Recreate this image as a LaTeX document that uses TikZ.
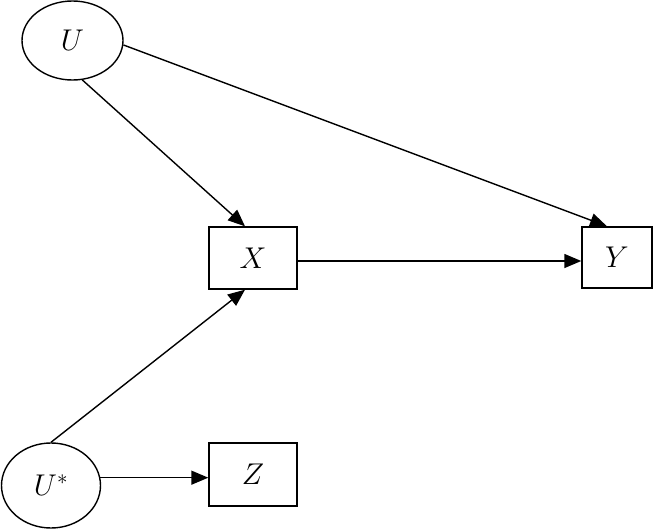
\RequirePackage{fix-cm}
\documentclass[tikz,border=0pt]{standalone}
\usepackage{amsmath}
\usepackage{tikz}
\usetikzlibrary{arrows.meta,shapes.geometric}

\begin{document}
\begin{tikzpicture}[
    x = 1pt, y = -1pt, line width = 1.4pt,
    font = \fontsize{30}{34}\selectfont, >={Triangle[length = 17pt, width = 14pt]},
    lat/.style ={ellipse, draw, inner sep = 0pt},
    obs/.style ={rectangle, draw, inner sep = 0pt}
    ]
\useasboundingbox (0, 0) rectangle (654, 530);

\def\BW{88} % width of the boxes
\def\BH{62} % height of the boxes

    \node (U)     at (72.5, 40.5) [lat, minimum width = 101pt, minimum height = 79pt]{$U$};
    \node (Ustar) at (51, 485.5)  [lat, minimum width = 99pt,  minimum height = 85pt]{$U^*$};

    \node (X) at (253, 258)   [obs, minimum width = \BW pt, minimum height = \BH pt]{$X$};
    \node (Y) at (617, 257.5) [obs, minimum width = 70pt,   minimum height = 61pt]  {$Y$};
    \node (Z) at (253, 474.5) [obs, minimum width = \BW pt, minimum height = 63pt]  {$Z$};

    \draw [->] (U.-76) -- ([xshift = -8pt]X.north);
    \draw [->] (U.-5)  -- ([xshift = -10pt]Y.north);
    \draw [->] ([yshift = -3pt]X.east) -- ([yshift = -3pt]X.east -| Y.west);
    \draw [->] (Ustar.north) -- ([xshift = -8pt]X.south);
    \draw [->] (Ustar.9) -- (Ustar.9 -| Z.west);
\end{tikzpicture}
\end{document}
